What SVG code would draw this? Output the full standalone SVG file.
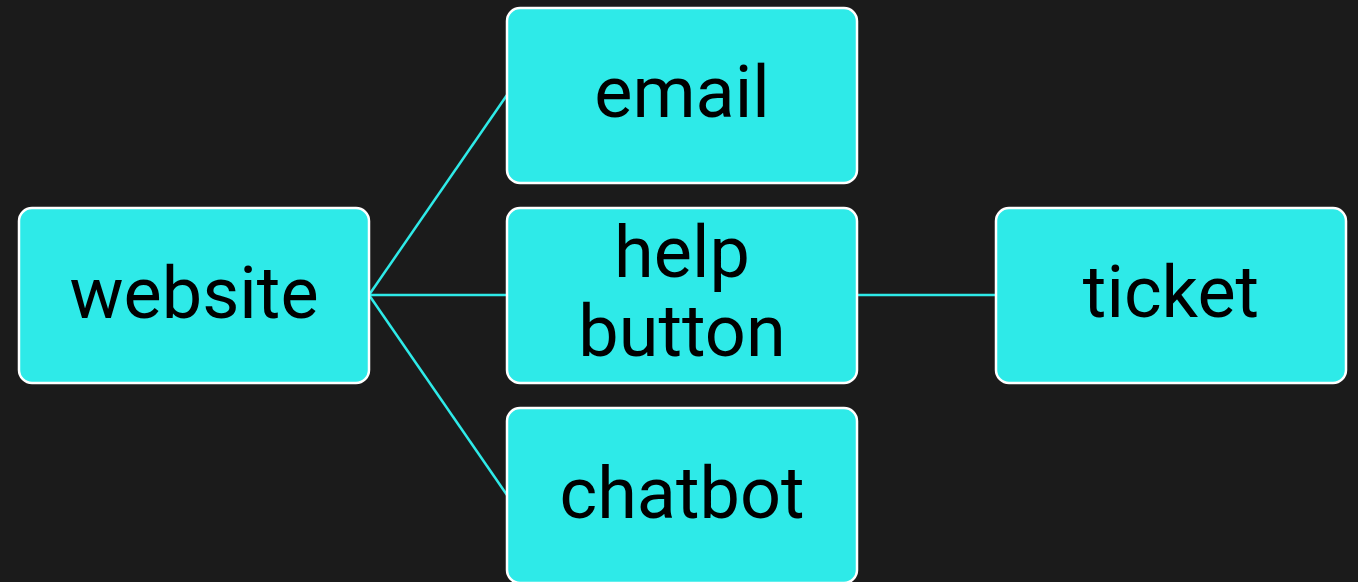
<svg xmlns="http://www.w3.org/2000/svg" width="1358" height="582" viewBox="0 0 1358 582">
<style>
.node rect{fill:#2eeae8;stroke:#ffffff;stroke-width:2.5}
.node text{font-family:Roboto,"Liberation Sans",sans-serif;font-size:72px;fill:#000;text-anchor:middle}
.conn line{stroke:#2eeae8;stroke-width:2.5}
</style>
<rect x="0" y="0" width="1358" height="582" fill="#1b1b1b"/>
<g id="connectors" class="conn">
<line x1="369" y1="295" x2="507" y2="95"/>
<line x1="369" y1="295" x2="507" y2="295"/>
<line x1="369" y1="295" x2="507" y2="495"/>
<line x1="857" y1="295" x2="996" y2="295"/>
</g>
<g id="website" class="node"><rect x="19" y="208" width="350" height="175" rx="13"/><text x="194" y="318">website</text></g>
<g id="email" class="node"><rect x="507" y="8" width="350" height="175" rx="13"/><text x="682" y="117">email</text></g>
<g id="help-button" class="node"><rect x="507" y="208" width="350" height="175" rx="13"/><text x="682" y="277">help</text><text x="682" y="356">button</text></g>
<g id="chatbot" class="node"><rect x="507" y="408" width="350" height="175" rx="13"/><text x="682" y="518">chatbot</text></g>
<g id="ticket" class="node"><rect x="996" y="208" width="350" height="175" rx="13"/><text x="1171" y="317">ticket</text></g>
</svg>
